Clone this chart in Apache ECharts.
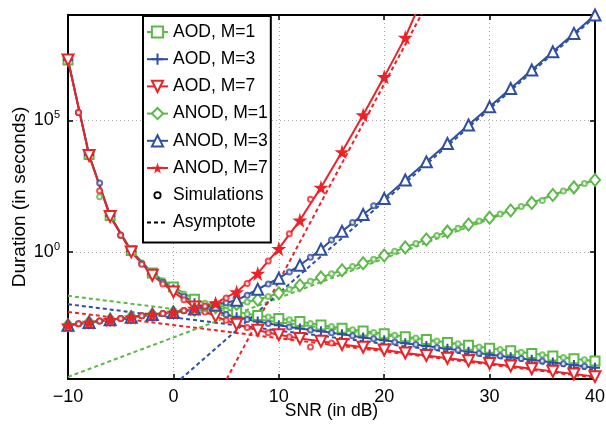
<!DOCTYPE html>
<html><head><meta charset="utf-8">
<script src="https://cdn.jsdelivr.net/npm/echarts@6/dist/echarts.min.js"></script>
<style>html,body{margin:0;padding:0;background:#fff}#c{width:606px;height:426px}</style>
</head><body><div id="c"></div>
<script>
// SNR (dB) where analytic markers sit, and where simulation points sit
const snrMarks = [-10,-8,-6,-4,-2,0,2,4,6,8,10,12,14,16,18,20,22,24,26,28,30,32,34,36,38,40];
const snrSims  = [-9,-7,-5,-3,-1,1,3,5,7,9,11,13,15,17,19,21,23,25,27,29,31,33,35,37,39];
const xTicks = [-10,0,10,20,30,40];
const yTickExps = [0,5];

// Duration values, stored as log10(seconds)
const aodM1  = [7.29,3.70,1.38,0.05,-0.80,-1.33,-1.80,-2.08,-2.28,-2.42,-2.53,-2.65,-2.78,-2.90,-3.01,-3.11,-3.22,-3.33,-3.44,-3.55,-3.66,-3.76,-3.86,-3.96,-4.06,-4.15];
const aodM3  = [7.29,3.68,1.36,0.03,-0.84,-1.42,-1.95,-2.25,-2.48,-2.65,-2.79,-2.91,-3.02,-3.13,-3.25,-3.36,-3.47,-3.58,-3.68,-3.79,-3.90,-4.00,-4.10,-4.20,-4.30,-4.40];
const aodM7  = [7.29,3.66,1.34,0.00,-0.89,-1.52,-2.09,-2.45,-2.75,-2.98,-3.15,-3.29,-3.40,-3.52,-3.62,-3.73,-3.84,-3.94,-4.04,-4.14,-4.24,-4.34,-4.44,-4.54,-4.64,-4.74];
const anodM1 = [-2.79,-2.68,-2.58,-2.48,-2.39,-2.30,-2.20,-2.10,-1.98,-1.82,-1.57,-1.27,-0.97,-0.70,-0.43,-0.14,0.17,0.47,0.77,1.04,1.30,1.57,1.86,2.16,2.45,2.73];
const anodM3 = [-2.79,-2.68,-2.58,-2.48,-2.38,-2.30,-2.17,-2.02,-1.84,-1.42,-1.00,-0.51,0.10,0.78,1.42,2.03,2.73,3.42,4.12,4.82,5.51,6.21,6.91,7.60,8.30,9.00];
const anodM7 = [-2.79,-2.68,-2.58,-2.48,-2.38,-2.30,-2.15,-1.95,-1.52,-0.82,0.12,1.20,2.45,3.80,5.20,6.65,8.15,10.0];

// Simulation points (log10 seconds) at odd SNRs
const simAodM1  = [5.3,2.09,0.62,-0.42,-1.10,-1.60,-1.95,-2.20,-2.36,-2.47,-2.58,-2.72,-2.84,-2.96,-3.06,-3.17,-3.27,-3.39,-3.49,-3.61,-3.71,-3.81,-3.91,-4.01,-4.10];
const simAodM3  = [5.3,2.62,0.64,-0.45,-1.15,-1.70,-2.10,-2.38,-2.57,-2.72,-2.85,-2.97,-3.07,-3.19,-3.30,-3.42,-3.52,-3.63,-3.73,-3.85,-3.95,-4.05,-4.15,-4.25,-4.35];
const simAodM7  = [5.3,2.32,0.63,-0.47,-1.22,-1.82,-2.28,-2.60,-2.87,-3.07,-3.22,-3.61,-3.46];
const simAnodM1 = [-2.73,-2.63,-2.53,-2.43,-2.34,-2.25,-2.15,-2.04,-1.90,-1.70,-1.42,-1.12,-0.83,-0.56,-0.28,0.02,0.32,0.62,0.90,1.17,1.44,1.72,1.95,2.31,2.60];
const simAnodM3 = [-2.73,-2.63,-2.53,-2.43,-2.34,-2.23,-2.09,-1.93,-1.65,-1.22,-0.76,-0.20,0.45,1.12,1.75];
const simAnodM7 = [-2.73,-2.63,-2.53,-2.43,-2.34,-2.23,-2.06,-1.75,-1.20,-0.35,0.69,2.00];

// Asymptotes: [SNR, log10 seconds] end points
const asymAodM1  = [[-10,-1.67],[40,-4.17]];
const asymAodM3  = [[-10,-1.99],[40,-4.49]];
const asymAodM7  = [[-10,-2.28],[40,-4.78]];
const asymAnodM1 = [[-10,-4.75],[40,2.75]];
const asymAnodM3 = [[0.7,-4.83],[40,8.93]];
const asymAnodM7 = [[5.06,-4.83],[24.5,9.75]];

const legendNames = ['AOD, M=1','AOD, M=3','AOD, M=7','ANOD, M=1','ANOD, M=3','ANOD, M=7','Simulations','Asymptote'];

const GREEN = '#5bb947', BLUE = '#2f4f9f', RED = '#ed2227';
const FONT = 'Liberation Sans';
const yMinExp = -4.83, yMaxExp = 9;
const STAR = 'path://M50,0L61,35L98,35L68,57L79,91L50,70L21,91L32,57L2,35L39,35Z';
const PLUS = 'path://M0,5L10,5M5,0L5,10';
const DOT  = 'path://M0,0M20,20M10,5.5A4.5,4.5,0,1,1,10,14.5A4.5,4.5,0,1,1,10,5.5Z';

const toPairs = (xs, es) => es.map((e, i) => [xs[i], Math.pow(10, e)]);
const toPairs2 = (arr) => arr.map(p => [p[0], Math.pow(10, p[1])]);

function curve(name, color, vals, symbol, size, extra) {
  return Object.assign({
    name, type: 'line', data: toPairs(snrMarks, vals), color,
    symbol, symbolSize: size, showAllSymbol: true, z: 4,
    lineStyle: { color, width: 2 },
    itemStyle: { color, borderColor: color, borderWidth: 1.6 }
  }, extra || {});
}
function sims(name, color, vals) {
  return { name, type: 'scatter', data: toPairs(snrSims, vals), symbol: 'emptyCircle', symbolSize: 5, z: 5,
    itemStyle: { color, borderColor: color, borderWidth: 1.6 } };
}
function asym(name, color, pts) {
  return { name, type: 'line', data: toPairs2(pts), showSymbol: false, symbol: 'none', z: 3,
    lineStyle: { color, width: 2, type: [4, 3] } };
}

const series = [
  curve('AOD, M=1', GREEN, aodM1, 'emptyRect', 9),
  curve('AOD, M=3', BLUE, aodM3, PLUS, 10, { itemStyle: { color: BLUE, borderColor: BLUE, borderWidth: 2 } }),
  curve('AOD, M=7', RED, aodM7, 'emptyTriangle', 11, { symbolRotate: 180 }),
  curve('ANOD, M=1', GREEN, anodM1, 'emptyDiamond', [10, 12]),
  curve('ANOD, M=3', BLUE, anodM3, 'emptyTriangle', 11),
  curve('ANOD, M=7', RED, anodM7, STAR, 15, { itemStyle: { color: RED, borderWidth: 0 } }),
  { name: 'Simulations', type: 'line', data: [], color: '#000', symbol: 'emptyCircle', lineStyle: { opacity: 0 } },
  { name: 'Asymptote', type: 'line', data: [], color: '#000', symbol: 'none', lineStyle: { color: '#000', width: 2, type: [4, 3] } },
  asym('asym1', GREEN, asymAodM1), asym('asym2', BLUE, asymAodM3), asym('asym3', RED, asymAodM7),
  asym('asym4', GREEN, asymAnodM1), asym('asym5', BLUE, asymAnodM3), asym('asym6', RED, asymAnodM7),
  sims('sim1', GREEN, simAodM1), sims('sim2', BLUE, simAodM3), sims('sim3', RED, simAodM7),
  sims('sim4', GREEN, simAnodM1), sims('sim5', BLUE, simAnodM3), sims('sim6', RED, simAnodM7)
];

const tickVals = yTickExps.map(e => Math.pow(10, e));
const fmtX = v => (v < 0 ? '\u2212' + (-v) : '' + v);
const axisLineStyle = { color: '#000', width: 2 };
const gridLine = { show: true, lineStyle: { color: '#aaa', width: 1, type: [1, 3] } };

const option = {
  animation: false,
  backgroundColor: '#fff',
  grid: { left: 68, right: 11, top: 15, bottom: 47, containLabel: false, outerBoundsMode: 'none' },
  xAxis: [
    { type: 'value', min: -10, max: 40, interval: 10, position: 'bottom',
      axisLine: { show: true, onZero: false, lineStyle: axisLineStyle },
      axisTick: { show: true, inside: true, length: 5, lineStyle: { color: '#000', width: 1.5 } },
      axisLabel: { formatter: fmtX, color: '#000', fontSize: 18, fontFamily: FONT, margin: 9, showMinLabel: true, showMaxLabel: true },
      splitLine: gridLine,
      name: 'SNR (in dB)', nameLocation: 'middle', nameGap: 23, nameMoveOverlap: false,
      nameTextStyle: { color: '#000', fontSize: 17.5, fontFamily: FONT } },
    { type: 'value', min: -10, max: 40, interval: 10, position: 'top',
      axisLine: { show: true, onZero: false, lineStyle: axisLineStyle },
      axisTick: { show: true, inside: true, length: 5, lineStyle: { color: '#000', width: 1.5 } },
      axisLabel: { show: false }, splitLine: { show: false } }
  ],
  yAxis: [
    { type: 'log', min: Math.pow(10, yMinExp), max: Math.pow(10, yMaxExp), position: 'left',
      axisLine: { show: true, onZero: false, lineStyle: axisLineStyle },
      axisTick: { show: true, inside: true, length: 5, customValues: tickVals, lineStyle: { color: '#000', width: 1.5 } },
      axisLabel: { customValues: tickVals, margin: 8,
        formatter: v => '{b|10}{s|' + Math.round(Math.log10(v)) + '}',
        rich: { b: { fontSize: 18, fontFamily: FONT, color: '#000' },
                s: { fontSize: 11, fontFamily: FONT, color: '#000', verticalAlign: 'top', padding: [0, 0, 10, 0] } } },
      splitLine: gridLine,
      name: 'Duration (in seconds)', nameLocation: 'middle', nameGap: 39, nameMoveOverlap: false,
      nameTextStyle: { color: '#000', fontSize: 19, fontFamily: FONT } },
    { type: 'log', min: Math.pow(10, yMinExp), max: Math.pow(10, yMaxExp), position: 'right',
      axisLine: { show: true, onZero: false, lineStyle: axisLineStyle },
      axisTick: { show: true, inside: true, length: 5, customValues: tickVals, lineStyle: { color: '#000', width: 1.5 } },
      axisLabel: { show: false }, splitLine: { show: false } }
  ],
  legend: {
    orient: 'vertical', left: 143, top: 16,
    data: legendNames.map(n => {
      if (n === 'Simulations') return { name: n, icon: DOT, itemStyle: { color: '#fff', borderColor: '#000', borderWidth: 1.8 } };
      if (n === 'Asymptote') return { name: n, itemStyle: { opacity: 0 } };
      return { name: n };
    }),
    itemWidth: 21, itemHeight: 14, itemGap: 9.2,
    padding: [7, 3, 11, 3],
    backgroundColor: '#fff', borderColor: '#000', borderWidth: 2, borderRadius: 0,
    textStyle: { color: '#000', fontSize: 17.5, fontFamily: FONT, lineHeight: 14 },
    selectedMode: false
  },
  series
};

const chart = echarts.init(document.getElementById('c'), null, { renderer: 'canvas' });
chart.setOption(option);
</script></body></html>
